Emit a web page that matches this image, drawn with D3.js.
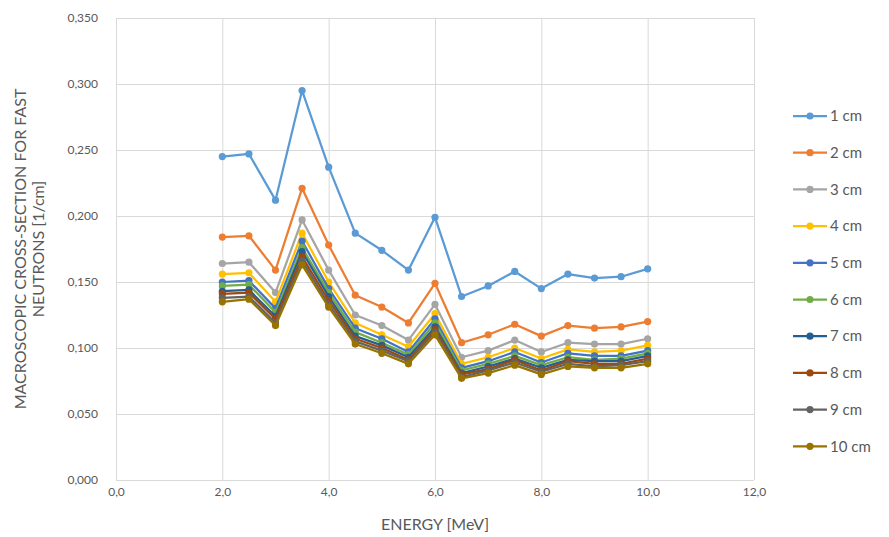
<!DOCTYPE html>
<html>
<head>
<meta charset="utf-8">
<script src="https://cdn.jsdelivr.net/npm/d3@7"></script>
<style>
    body { margin: 0; background: #fff; }
    svg text { font-family: Lato, "Open Sans", sans-serif; fill: #595959; }
</style>
</head>
<body>
<div id="chart"></div>
<script>
// energies (MeV)
const energy = [2.0, 2.5, 3.0, 3.5, 4.0, 4.5, 5.0, 5.5, 6.0, 6.5, 7.0, 7.5, 8.0, 8.5, 9.0, 9.5, 10.0];
const seriesNames = ['1 cm', '2 cm', '3 cm', '4 cm', '5 cm', '6 cm', '7 cm', '8 cm', '9 cm', '10 cm'];
const seriesColors = ['#5B9BD5', '#ED7D31', '#A5A5A5', '#FFC000', '#4472C4', '#70AD47', '#255E91', '#9E480E', '#636363', '#997300'];

// macroscopic cross-section values, one array per thickness
const s1cm = [0.245, 0.247, 0.212, 0.295, 0.237, 0.187, 0.174, 0.159, 0.199, 0.139, 0.147, 0.158, 0.145, 0.156, 0.153, 0.154, 0.160];
const s2cm = [0.184, 0.185, 0.159, 0.221, 0.178, 0.140, 0.131, 0.119, 0.149, 0.104, 0.110, 0.118, 0.109, 0.117, 0.115, 0.116, 0.120];
const s3cm = [0.164, 0.165, 0.142, 0.197, 0.159, 0.125, 0.117, 0.106, 0.133, 0.093, 0.098, 0.106, 0.097, 0.104, 0.103, 0.103, 0.107];
const s4cm = [0.156, 0.157, 0.135, 0.187, 0.150, 0.119, 0.110, 0.101, 0.126, 0.088, 0.093, 0.100, 0.092, 0.099, 0.097, 0.098, 0.102];
const s5cm = [0.150, 0.151, 0.130, 0.181, 0.145, 0.115, 0.107, 0.097, 0.122, 0.085, 0.090, 0.097, 0.089, 0.096, 0.094, 0.094, 0.098];
const s6cm = [0.147, 0.148, 0.127, 0.176, 0.142, 0.112, 0.104, 0.095, 0.119, 0.083, 0.088, 0.094, 0.087, 0.093, 0.091, 0.092, 0.096];
const s7cm = [0.143, 0.144, 0.124, 0.173, 0.139, 0.109, 0.102, 0.093, 0.116, 0.081, 0.086, 0.092, 0.085, 0.091, 0.090, 0.090, 0.094];
const s8cm = [0.141, 0.142, 0.122, 0.169, 0.136, 0.107, 0.100, 0.091, 0.114, 0.080, 0.084, 0.091, 0.083, 0.090, 0.088, 0.088, 0.092];
const s9cm = [0.138, 0.139, 0.119, 0.166, 0.133, 0.105, 0.098, 0.090, 0.112, 0.078, 0.083, 0.089, 0.082, 0.088, 0.086, 0.087, 0.090];
const s10cm = [0.135, 0.137, 0.117, 0.163, 0.131, 0.103, 0.096, 0.088, 0.110, 0.077, 0.081, 0.087, 0.080, 0.086, 0.085, 0.085, 0.088];
const seriesValues = [s1cm, s2cm, s3cm, s4cm, s5cm, s6cm, s7cm, s8cm, s9cm, s10cm];

const xTicks = [0, 2, 4, 6, 8, 10, 12];
const yTicks = [0, 0.05, 0.10, 0.15, 0.20, 0.25, 0.30, 0.35];

const width = 889, height = 537;
const margin = { top: 18, right: 135, bottom: 57, left: 116 };

const locale = d3.formatLocale({ decimal: ',', thousands: '.', grouping: [3], currency: ['', ''] });
const fmtX = locale.format('.1f');
const fmtY = locale.format('.3f');

const svg = d3.select('#chart').append('svg')
    .attr('width', width)
    .attr('height', height);

const x = d3.scaleLinear().domain([0, 12]).range([margin.left, width - margin.right]);
const y = d3.scaleLinear().domain([0, 0.35]).range([height - margin.bottom, margin.top]);

// gridlines
svg.append('g')
    .attr('transform', 'translate(0,' + (height - margin.bottom) + ')')
    .call(d3.axisBottom(x).tickValues(xTicks).tickSize(-(height - margin.top - margin.bottom)).tickFormat(fmtX))
    .call(g => g.select('.domain').remove())
    .call(g => g.selectAll('.tick line').attr('stroke', '#D9D9D9'))
    .call(g => g.selectAll('.tick text').attr('dy', '1.05em').style('font-size', '12px'));

svg.append('g')
    .attr('transform', 'translate(' + margin.left + ',0)')
    .call(d3.axisLeft(y).tickValues(yTicks).tickSize(-(width - margin.left - margin.right)).tickFormat(fmtY))
    .call(g => g.select('.domain').remove())
    .call(g => g.selectAll('.tick line').attr('stroke', '#D9D9D9'))
    .call(g => g.selectAll('.tick text').attr('x', -18).style('font-size', '12px'));

// lines
const line = d3.line()
    .x((d, i) => x(energy[i]))
    .y(d => y(d));

const order = d3.range(seriesValues.length);
const series = svg.selectAll('g.series')
    .data(order)
    .enter().append('g')
    .attr('class', 'series');

series.append('path')
    .attr('d', i => line(seriesValues[i]))
    .attr('fill', 'none')
    .attr('stroke', i => seriesColors[i])
    .attr('stroke-width', 2.25)
    .attr('stroke-linejoin', 'round');

series.each(function(si) {
    d3.select(this).selectAll('circle')
        .data(seriesValues[si])
        .enter().append('circle')
        .attr('cx', (d, i) => x(energy[i]))
        .attr('cy', d => y(d))
        .attr('r', 3.6)
        .attr('fill', seriesColors[si]);
});

// axis titles
svg.append('text')
    .attr('x', (margin.left + width - margin.right) / 2)
    .attr('y', 530)
    .attr('text-anchor', 'middle')
    .style('font-size', '16px')
    .text('ENERGY [MeV]');

const yTitle = svg.append('text')
    .attr('transform', 'translate(26,' + (y(0.175)) + ') rotate(-90)')
    .attr('text-anchor', 'middle')
    .style('font-size', '16px');
yTitle.append('tspan').attr('x', 0).attr('dy', 0).text('MACROSCOPIC CROSS-SECTION FOR FAST');
yTitle.append('tspan').attr('x', 0).attr('dy', '1.15em').text('NEUTRONS [1/cm]');

// legend
const legend = svg.selectAll('g.legend')
    .data(seriesNames)
    .enter().append('g')
    .attr('class', 'legend')
    .attr('transform', (d, i) => 'translate(793,' + (116 + i * 36.7) + ')');

legend.append('line')
    .attr('x1', 0).attr('x2', 34)
    .attr('stroke', (d, i) => seriesColors[i])
    .attr('stroke-width', 2.25);

legend.append('circle')
    .attr('cx', 17)
    .attr('r', 3.6)
    .attr('fill', (d, i) => seriesColors[i]);

legend.append('text')
    .attr('x', 37)
    .attr('dy', '0.35em')
    .style('font-size', '15px')
    .text(d => d);
</script>
</body>
</html>
